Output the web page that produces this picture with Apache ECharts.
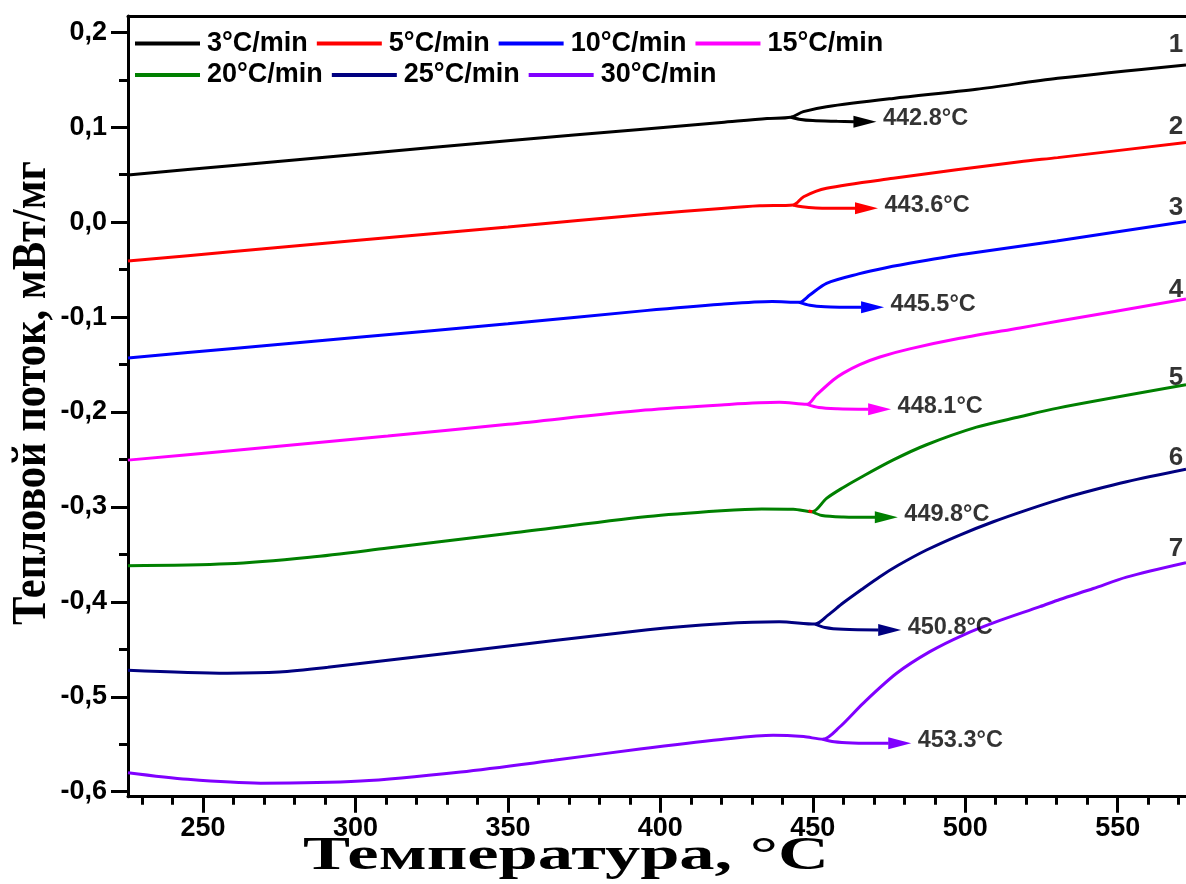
<!DOCTYPE html>
<html>
<head>
<meta charset="utf-8">
<script src="https://cdn.jsdelivr.net/npm/echarts@6/dist/echarts.min.js"></script>
<style>
  html, body { margin: 0; padding: 0; background: #ffffff; }
  #chart { width: 1186px; height: 884px; }
</style>
</head>
<body>
<div id="chart"></div>
<script>
// Heating rates (legend entries) and onset temperatures of the transition
const rateNames = ['3°C/min', '5°C/min', '10°C/min', '15°C/min', '20°C/min', '25°C/min', '30°C/min'];
const onsetTemps = [442.8, 443.6, 445.5, 448.1, 449.8, 450.8, 453.3];
const curveNumbers = ['1', '2', '3', '4', '5', '6', '7'];

// DSC heat flow curves: [temperature °C, heat flow mW/mg]
const heatFlow3 = [[225.4,0.0498],[260,0.0598],[300,0.0714],[350,0.0858],[393.3,0.0977],[420,0.1050],[435,0.1092],[442.8,0.1105],[446.9,0.1164],[454.5,0.1216],[476.4,0.1304],[503.7,0.1400],[530.3,0.1515],[572.4,0.1657]];
const heatFlow5 = [[225.4,-0.0410],[260,-0.0310],[300,-0.0194],[350,-0.0050],[395.9,0.0083],[420,0.0145],[432.6,0.0172],[443.6,0.0181],[447,0.0268],[454.5,0.0357],[476.4,0.0462],[517.9,0.0637],[530.3,0.0680],[572.4,0.0839]];
const heatFlow10 = [[225.4,-0.1432],[260,-0.1330],[300,-0.1215],[350,-0.1070],[395,-0.0932],[420,-0.0865],[436.7,-0.0836],[445.5,-0.0845],[449,-0.0768],[454.5,-0.0644],[465,-0.0545],[474,-0.0480],[485,-0.0415],[500,-0.0335],[530,-0.0198],[572.4,0.0007]];
const heatFlow15 = [[225.4,-0.2507],[260,-0.2405],[310.6,-0.2253],[350,-0.2130],[395,-0.1980],[420,-0.1925],[439,-0.1898],[448.1,-0.1919],[451.2,-0.1821],[456.7,-0.1663],[460,-0.1590],[465.4,-0.1500],[472,-0.1420],[481.8,-0.1335],[498.2,-0.1224],[517.9,-0.1114],[530.3,-0.1045],[572.4,-0.0810]];
const heatFlow20 = [[225.4,-0.3620],[258,-0.3600],[285,-0.3530],[310.6,-0.3433],[350,-0.3280],[395.9,-0.3101],[420,-0.3040],[433.3,-0.3021],[443.6,-0.3025],[449.8,-0.3051],[454.5,-0.2910],[460,-0.2795],[465.4,-0.2695],[476.4,-0.2505],[487.3,-0.2345],[503.7,-0.2160],[517.9,-0.2050],[530.3,-0.1959],[572.4,-0.1714]];
const heatFlow25 = [[225.4,-0.4721],[258,-0.4752],[275,-0.4740],[290.9,-0.4690],[334.5,-0.4525],[395.9,-0.4294],[420,-0.4230],[439,-0.4209],[450.8,-0.4234],[455,-0.4140],[460,-0.4010],[466,-0.3870],[472,-0.3735],[478,-0.3615],[487.3,-0.3454],[498.2,-0.3296],[509.2,-0.3156],[520.1,-0.3033],[531.0,-0.2920],[542.0,-0.2822],[552.9,-0.2735],[572.4,-0.2604]];
const heatFlow30 = [[225.4,-0.5800],[245,-0.5870],[268.9,-0.5910],[301.7,-0.5888],[334.5,-0.5792],[365,-0.5670],[393.3,-0.5550],[420,-0.5450],[437,-0.5405],[447,-0.5420],[453.3,-0.5448],[458.9,-0.5316],[466.5,-0.5069],[477.5,-0.4753],[488.4,-0.4525],[499.3,-0.4350],[510.3,-0.4209],[524.5,-0.4051],[531,-0.3975],[542,-0.3860],[552.9,-0.3740],[572.4,-0.3588]];

// Extrapolated baseline branches from the onset point to the arrowhead base
const onsetBranch3 = [[442.8,0.1105],[445.5,0.1085],[450,0.1070],[458,0.1062],[463.5,0.1058]];
const onsetBranch5 = [[443.6,0.0181],[446.5,0.0162],[451,0.0150],[458,0.0147],[464,0.0146]];
const onsetBranch10 = [[445.5,-0.0845],[449,-0.0875],[454,-0.0892],[460,-0.0896],[466,-0.0897]];
const onsetBranch15 = [[448.1,-0.1919],[452,-0.1953],[458,-0.1966],[468.3,-0.1972]];
const onsetBranch20 = [[449.8,-0.3051],[453,-0.3090],[460,-0.3106],[470.5,-0.3110]];
const onsetBranch25 = [[450.8,-0.4234],[454,-0.4270],[460,-0.4290],[471.6,-0.4297]];
const onsetBranch30 = [[453.3,-0.5448],[457,-0.5475],[463,-0.5487],[474.9,-0.5491]];

// Short red stroke at the onset of curve 5
const onsetMark20 = [[448.6,-0.3042],[449.8,-0.3051]];

// Positions of the curve numbers near the right edge
const curveNumberPos = [[569.1,0.1866],[569.1,0.1002],[569.1,0.0149],[569.1,-0.0715],[569.1,-0.1642],[569.1,-0.2485],[569.1,-0.3444]];

// Axis ticks
const xMajorTicks = [250, 300, 350, 400, 450, 500, 550];
const xMinorTicks = [230, 240, 260, 270, 280, 290, 310, 320, 330, 340, 360, 370, 380, 390, 410, 420, 430, 440, 460, 470, 480, 490, 510, 520, 530, 540, 560, 570];
const yMajorTicks = [-0.6, -0.5, -0.4, -0.3, -0.2, -0.1, 0, 0.1, 0.2];
const yMinorTicks = [-0.55, -0.45, -0.35, -0.25, -0.15, -0.05, 0.05, 0.15];

const curves = [heatFlow3, heatFlow5, heatFlow10, heatFlow15, heatFlow20, heatFlow25, heatFlow30];
const branches = [onsetBranch3, onsetBranch5, onsetBranch10, onsetBranch15, onsetBranch20, onsetBranch25, onsetBranch30];
const colors = ['#000000', '#ff0000', '#0000ff', '#ff00ff', '#008000', '#000080', '#8000ff'];

const X_MIN = 225.4, X_MAX = 572.4, Y_MIN = -0.6053, Y_MAX = 0.2172;
const SANS = '"Liberation Sans", Arial, sans-serif';
const SERIF = '"Liberation Serif", "Times New Roman", serif';

function fmtY(v) {
  const s = Math.abs(v) < 1e-9 ? '0.0' : v.toFixed(1);
  return s.replace('.', ',');
}

const axisLineStyle = { color: '#000', width: 3 };

const series = [];
curves.forEach(function (data, i) {
  series.push({
    name: rateNames[i],
    type: 'line',
    data: data,
    symbol: 'none',
    smooth: 0.3,
    lineStyle: { color: colors[i], width: 3 },
    itemStyle: { color: colors[i] },
    z: 3
  });
});
branches.forEach(function (data, i) {
  const pts = data.map(function (p, k) {
    if (k < data.length - 1) return { value: p, symbol: 'none' };
    return {
      value: p,
      symbol: 'triangle',
      symbolSize: [12, 23],
      symbolRotate: -90,
      symbolOffset: [11, 0]
    };
  });
  series.push({
    type: 'line',
    data: pts,
    showSymbol: true,
    showAllSymbol: true,
    smooth: 0.3,
    lineStyle: { color: colors[i], width: 3 },
    itemStyle: { color: colors[i] },
    silent: true,
    z: 4
  });
  // onset temperature label placed after the arrowhead
  series.push({
    type: 'scatter',
    data: [data[data.length - 1]],
    symbolSize: 0,
    silent: true,
    label: {
      show: true,
      position: 'right',
      distance: 29,
      offset: [0, -3],
      formatter: onsetTemps[i].toFixed(1) + '°C',
      color: '#000',
      fontFamily: SANS,
      fontWeight: 'bold',
      fontSize: 23.5
    },
    z: 5
  });
});
series.push({
  type: 'line',
  data: onsetMark20,
  symbol: 'none',
  lineStyle: { color: '#ff0000', width: 3 },
  silent: true,
  z: 6
});
series.push({
  type: 'scatter',
  data: curveNumberPos.map(function (p, i) { return { value: p, name: curveNumbers[i] }; }),
  symbolSize: 0,
  silent: true,
  label: {
    show: true,
    position: 'inside',
    formatter: '{b}',
    color: '#000',
    fontFamily: SANS,
    fontWeight: 'bold',
    fontSize: 26
  },
  z: 5
});

const legendBase = {
  left: 130,
  icon: 'rect',
  itemWidth: 65,
  itemHeight: 4,
  itemGap: 9,
  textStyle: {
    fontFamily: SANS,
    fontWeight: 'bold',
    fontSize: 27,
    color: '#000',
    lineHeight: 30,
    padding: [0, 0, 0, 2]
  }
};

const chart = echarts.init(document.getElementById('chart'), null, { renderer: 'canvas' });
chart.setOption({
  animation: false,
  backgroundColor: '#ffffff',
  grid: { left: 128, top: 16, right: 0, bottom: 87.3 },
  legend: [
    Object.assign({}, legendBase, { data: rateNames.slice(0, 4), top: 23.5 }),
    Object.assign({}, legendBase, { data: rateNames.slice(4), top: 55 })
  ],
  xAxis: [
    {
      type: 'value', position: 'bottom', min: X_MIN, max: X_MAX,
      axisLine: { show: true, onZero: false, lineStyle: axisLineStyle },
      axisTick: { show: true, customValues: xMajorTicks, length: 16, lineStyle: { color: '#000', width: 3 } },
      axisLabel: { customValues: xMajorTicks, margin: 18, color: '#000', fontFamily: SANS, fontWeight: 'bold', fontSize: 27 },
      splitLine: { show: false }
    },
    {
      type: 'value', position: 'bottom', offset: 0, min: X_MIN, max: X_MAX,
      axisLine: { show: false, onZero: false },
      axisTick: { show: true, customValues: xMinorTicks, length: 8, lineStyle: { color: '#000', width: 3 } },
      axisLabel: { show: false },
      splitLine: { show: false }
    },
    {
      type: 'value', position: 'top', offset: 0, min: X_MIN, max: X_MAX,
      axisLine: { show: true, onZero: false, lineStyle: axisLineStyle },
      axisTick: { show: false },
      axisLabel: { show: false },
      splitLine: { show: false }
    }
  ],
  yAxis: [
    {
      type: 'value', position: 'left', min: Y_MIN, max: Y_MAX,
      axisLine: { show: true, onZero: false, lineStyle: axisLineStyle },
      axisTick: { show: true, customValues: yMajorTicks, length: 17, lineStyle: { color: '#000', width: 3 } },
      axisLabel: { customValues: yMajorTicks, formatter: fmtY, margin: 21, color: '#000', fontFamily: SANS, fontWeight: 'bold', fontSize: 27 },
      splitLine: { show: false }
    },
    {
      type: 'value', position: 'left', offset: 0, min: Y_MIN, max: Y_MAX,
      axisLine: { show: false, onZero: false },
      axisTick: { show: true, customValues: yMinorTicks, length: 9, lineStyle: { color: '#000', width: 3 } },
      axisLabel: { show: false },
      splitLine: { show: false }
    }
  ],
  graphic: [
    {
      type: 'text',
      x: 566, y: 857,
      scaleX: 1.5,
      style: {
        text: 'Температура, °C',
        font: 'bold 47px ' + SERIF,
        fill: '#000',
        textAlign: 'center',
        textVerticalAlign: 'middle'
      }
    },
    {
      type: 'text',
      x: 32, y: 393,
      rotation: Math.PI / 2,
      scaleY: 1.15,
      style: {
        text: 'Тепловой поток, мВт/мг',
        font: 'bold 42.5px ' + SERIF,
        fill: '#000',
        textAlign: 'center',
        textVerticalAlign: 'middle'
      }
    }
  ],
  series: series
});
</script>
</body>
</html>
